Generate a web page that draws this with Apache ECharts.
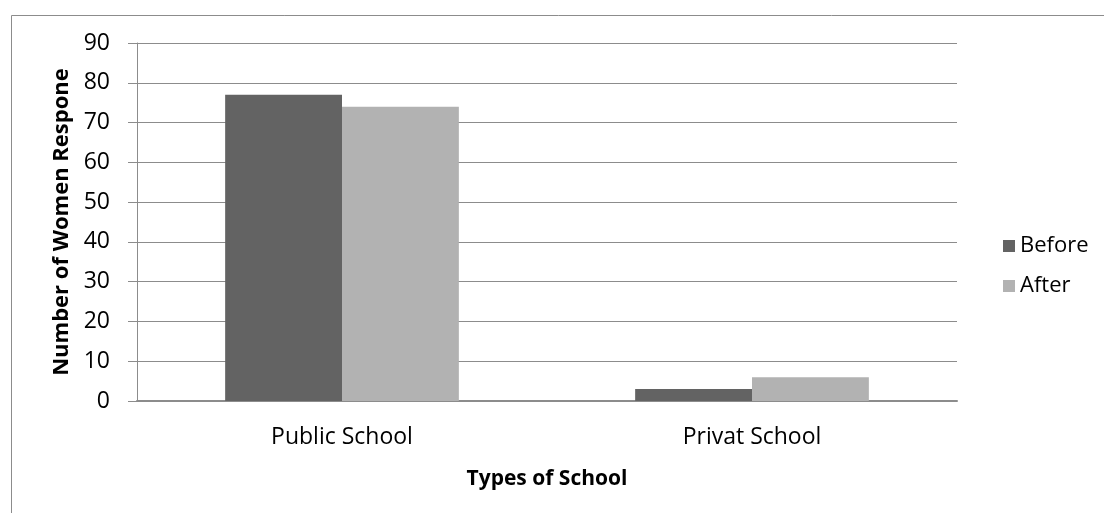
<!DOCTYPE html>
<html>
<head>
<meta charset="utf-8">
<script src="https://cdn.jsdelivr.net/npm/echarts@6/dist/echarts.min.js"></script>
<style>html,body{margin:0;padding:0;background:#fff}#c{width:1104px;height:513px}</style>
</head>
<body>
<div id="c"></div>
<script>
const categories = ["Public School", "Privat School"];
const beforeValues = [77, 3];
const afterValues = [74, 6];
const yTicks = [0, 10, 20, 30, 40, 50, 60, 70, 80, 90];

const FONT = "Open Sans";
const chart = echarts.init(document.getElementById('c'), null, {renderer: 'canvas'});
chart.setOption({
  animation: false,
  backgroundColor: '#ffffff',
  textStyle: {fontFamily: FONT},
  graphic: [{
    type: 'rect', silent: true, z: -1,
    shape: {x: 11.5, y: 15.5, width: 1200, height: 600},
    style: {fill: 'none', stroke: '#8c8c8c', lineWidth: 1}
  }],
  grid: {left: 137, right: 147, top: 43, bottom: 112, containLabel: false},
  legend: {
    orient: 'vertical', left: 998, top: 230,
    itemWidth: 12, itemHeight: 12, itemGap: 18, icon: 'rect',
    textStyle: {fontFamily: FONT, fontSize: 22, color: '#000', padding: [0, 0, 0, 0]},
    data: ['Before', 'After']
  },
  xAxis: {
    type: 'category', data: categories,
    axisLine: {lineStyle: {color: '#8c8c8c', width: 2}},
    axisTick: {show: false},
    axisLabel: {fontFamily: FONT, fontSize: 23, color: '#000', margin: 25},
    name: 'Types of School', nameLocation: 'middle', nameGap: 68,
    nameTextStyle: {fontFamily: FONT, fontSize: 21, fontWeight: 'bold', color: '#000'}
  },
  yAxis: {
    type: 'value', min: 0, max: 90, interval: 10,
    axisLine: {show: true, lineStyle: {color: '#8c8c8c', width: 1}},
    axisTick: {show: true, length: 9, lineStyle: {color: '#8c8c8c'}},
    splitLine: {lineStyle: {color: '#8c8c8c', width: 1}},
    axisLabel: {fontFamily: FONT, fontSize: 23, color: '#000', margin: 27,
      formatter: v => yTicks.includes(v) ? String(v) : ''},
    name: 'Number of Women Respone', nameLocation: 'middle', nameGap: 55, nameRotate: 90,
    nameTextStyle: {fontFamily: FONT, fontSize: 22, fontWeight: 'bold', color: '#000'}
  },
  series: [
    {name: 'Before', type: 'bar', data: beforeValues, barGap: '0%', barCategoryGap: '43%',
     itemStyle: {color: '#636363'}},
    {name: 'After', type: 'bar', data: afterValues, barGap: '0%', barCategoryGap: '43%',
     itemStyle: {color: '#b2b2b2'}}
  ]
});
</script>
</body>
</html>
